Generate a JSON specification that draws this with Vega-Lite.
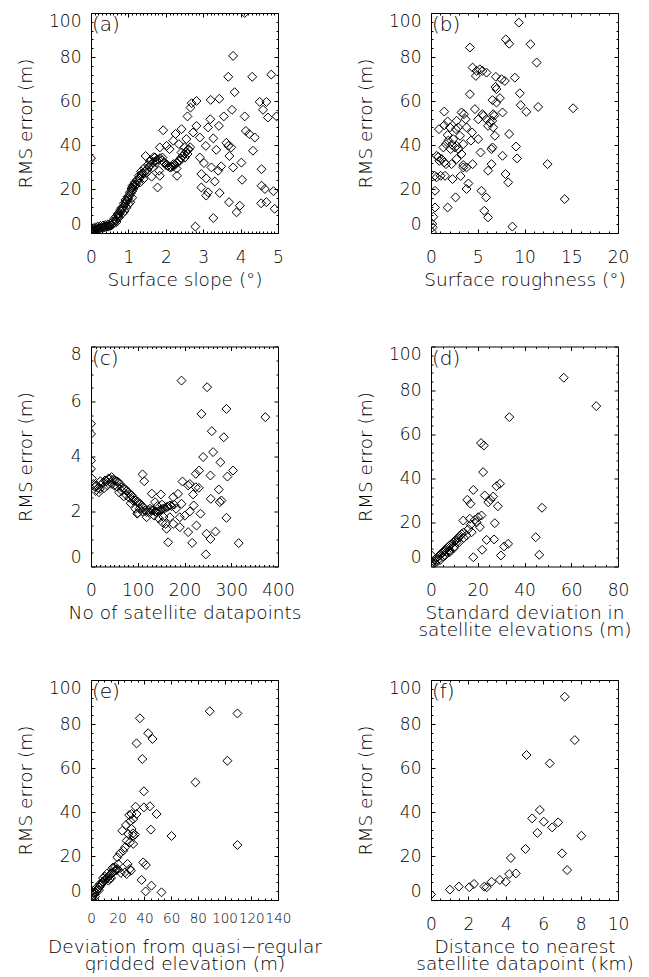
{
  "$schema": "https://vega.github.io/schema/vega-lite/v6.json",
  "background": "white",
  "padding": {"left": 15, "top": 8, "right": 0, "bottom": 0},
  "config": {
    "view": {"stroke": "black", "strokeWidth": 1},
    "font": "DejaVu Sans",
    "axis": {"grid": false, "domain": false, "format": "d", "labelFont": "DejaVu Sans", "labelFontSize": 17, "labelFontWeight": 200, "labelColor": "black", "titleFont": "DejaVu Sans", "titleFontSize": 18.5, "titleFontWeight": 200, "titleColor": "black", "tickColor": "black", "tickWidth": 1, "labelOverlap": false, "labelBound": false},
    "axisX": {"labelFlush": false, "titleY": 52, "titleBaseline": "alphabetic", "labelPadding": 20, "titleLineHeight": 17},
    "axisY": {"labelFlush": true, "titleX": -66, "titleBaseline": "middle", "labelPadding": 14},
    "point": {"shape": "diamond", "filled": false, "color": "black", "size": 80, "strokeWidth": 1, "opacity": 1}
  },
  "datasets": {
    "a": [
      {"x":0,"y":0.3},{"x":0,"y":1},{"x":0.01,"y":0.5},{"x":0.03,"y":0.8},{"x":0.05,"y":1.0},{"x":0.08,"y":1.2},{"x":0.1,"y":1.4},{"x":0.13,"y":1.6},{"x":0.16,"y":1.8},{"x":0.2,"y":2.0},{"x":0.23,"y":2.1},{"x":0.26,"y":2.3},{"x":0.3,"y":2.4},{"x":0.33,"y":2.5},{"x":0.36,"y":2.6},{"x":0.4,"y":2.8},{"x":0.43,"y":2.9},{"x":0.46,"y":3.0},{"x":0.5,"y":3.2},{"x":0.53,"y":3.4},{"x":0.56,"y":3.7},{"x":0.6,"y":4.3},{"x":0.63,"y":5.0},{"x":0.66,"y":5.8},{"x":0.7,"y":6.8},{"x":0.73,"y":7.8},{"x":0.76,"y":8.8},{"x":0.8,"y":9.8},{"x":0.83,"y":10.8},{"x":0.86,"y":11.8},{"x":0.9,"y":12.8},{"x":0.93,"y":13.8},{"x":0.96,"y":14.8},{"x":1.0,"y":15.8},{"x":1.03,"y":17},{"x":1.06,"y":18},{"x":1.1,"y":19},{"x":1.13,"y":20},{"x":1.17,"y":21.2},{"x":1.2,"y":22},{"x":1.25,"y":23.5},{"x":1.3,"y":25},{"x":1.35,"y":26},{"x":1.4,"y":27},{"x":1.45,"y":28},{"x":1.5,"y":29},{"x":1.55,"y":30},{"x":1.6,"y":31},{"x":1.65,"y":32},{"x":1.7,"y":32.5},{"x":1.75,"y":33},{"x":1.8,"y":33.5},{"x":1.85,"y":34},{"x":1.9,"y":33},{"x":1.95,"y":32},{"x":2.0,"y":31},{"x":2.05,"y":30.5},{"x":2.1,"y":30},{"x":2.15,"y":30},{"x":2.2,"y":30.5},{"x":2.25,"y":31},{"x":2.3,"y":32},{"x":2.35,"y":33},{"x":2.4,"y":34},{"x":2.45,"y":35},{"x":2.5,"y":36},{"x":2.55,"y":37},{"x":2.6,"y":38},{"x":2.65,"y":39},
      {"x":0.02,"y":1.8},{"x":0.06,"y":2.2},{"x":0.12,"y":2.6},{"x":0.18,"y":2.9},{"x":0.25,"y":3.2},{"x":0.32,"y":3.4},{"x":0.38,"y":3.6},{"x":0.45,"y":3.9},{"x":0.52,"y":4.3},{"x":0.58,"y":5.2},{"x":0.62,"y":6.5},{"x":0.67,"y":7.5},{"x":0.71,"y":8.6},{"x":0.78,"y":10.5},{"x":0.82,"y":11.5},{"x":0.88,"y":13.5},{"x":0.92,"y":15},{"x":0.98,"y":16.5},{"x":1.04,"y":18.5},{"x":1.08,"y":20},{"x":1.15,"y":22},{"x":1.22,"y":24},{"x":1.28,"y":26},{"x":1.34,"y":28},{"x":1.42,"y":29.5},{"x":1.52,"y":31},{"x":1.6,"y":33},{"x":1.68,"y":34.5},
      {"x":0.85,"y":9},{"x":0.9,"y":10},{"x":0.95,"y":11.5},{"x":1.0,"y":13},{"x":1.05,"y":14},{"x":1.1,"y":16},{"x":0.68,"y":5},{"x":0.75,"y":7},
      {"x":0,"y":34},{"x":4.11,"y":100},{"x":3.8,"y":80.5},{"x":3.67,"y":71},{"x":4.31,"y":71},{"x":4.82,"y":72},{"x":3.84,"y":64},{"x":2.69,"y":59},{"x":2.82,"y":60},{"x":3.2,"y":60.5},{"x":3.43,"y":61},{"x":4.51,"y":59.6},{"x":4.69,"y":59.6},{"x":4.6,"y":56},{"x":4.73,"y":52.5},{"x":4.96,"y":53},{"x":3.77,"y":56},{"x":2.66,"y":57},{"x":2.58,"y":53},{"x":4.11,"y":53},{"x":3.19,"y":51.7},{"x":3.55,"y":53},{"x":3.42,"y":48.7},{"x":3.13,"y":48},{"x":2.82,"y":48.7},{"x":4.14,"y":46.4},{"x":4.23,"y":45},{"x":4.38,"y":43.4},{"x":4.33,"y":37.4},{"x":2.91,"y":43.4},{"x":3.27,"y":43},{"x":2.73,"y":45.7},{"x":3.62,"y":41},{"x":3.67,"y":39.6},{"x":3.75,"y":38.9},{"x":3.07,"y":39.6},{"x":3.35,"y":37.8},{"x":3.7,"y":35},{"x":2.91,"y":34.3},{"x":3.8,"y":29.8},{"x":4.02,"y":32},{"x":3.02,"y":31.8},{"x":3.22,"y":29.8},{"x":3.48,"y":30.3},{"x":3.4,"y":28.3},{"x":4.56,"y":29},{"x":2.95,"y":26.8},{"x":3.08,"y":24.8},{"x":3.31,"y":23.4},{"x":4.04,"y":24.2},{"x":2.95,"y":20.7},{"x":3.13,"y":18.5},{"x":3.08,"y":17},{"x":4.56,"y":21.5},{"x":4.65,"y":20},{"x":4.88,"y":19},{"x":3.44,"y":18.2},{"x":3.69,"y":14},{"x":4.55,"y":13.5},{"x":4.69,"y":14},{"x":3.98,"y":12.4},{"x":3.89,"y":9.4},{"x":4.91,"y":11},{"x":3.27,"y":6.8},{"x":2.79,"y":2.9},
      {"x":1.93,"y":46.7},{"x":2.26,"y":45},{"x":2.42,"y":47.2},{"x":2.55,"y":42.7},{"x":2.2,"y":42},{"x":2.02,"y":39.6},{"x":1.84,"y":38.9},{"x":2.35,"y":40.4},{"x":2.5,"y":38.9},{"x":2.61,"y":38},{"x":2.1,"y":38.1},{"x":1.71,"y":34.3},{"x":1.91,"y":34.3},{"x":1.46,"y":35},{"x":1.57,"y":32.8},{"x":1.75,"y":32},{"x":2.02,"y":31.3},{"x":2.2,"y":31.3},{"x":2.38,"y":32.8},{"x":2.51,"y":34.3},{"x":2.42,"y":36.6},{"x":2.58,"y":35.9},{"x":2.11,"y":29.8},{"x":2.29,"y":29.3},{"x":1.82,"y":28.3},{"x":1.49,"y":27.5},{"x":1.65,"y":29.8},{"x":1.84,"y":26},{"x":2.3,"y":26},{"x":1.78,"y":20.7},{"x":1.62,"y":25.6},{"x":1.35,"y":26.8},{"x":1.4,"y":24.5},{"x":1.31,"y":23},{"x":1.17,"y":23},{"x":1.11,"y":21.5},{"x":1.1,"y":20.7}
    ],
    "b": [
      {"x":9.4,"y":95.6},{"x":4.16,"y":84.3},{"x":8.0,"y":88},{"x":8.36,"y":86},{"x":10.64,"y":85.8},{"x":11.3,"y":77.5},{"x":4.45,"y":75.2},{"x":4.88,"y":73.7},{"x":5.23,"y":74.4},{"x":5.5,"y":73.7},{"x":4.8,"y":71.4},{"x":5.94,"y":72.9},{"x":6.94,"y":71},{"x":8.97,"y":70.6},{"x":7.9,"y":69.1},{"x":7.54,"y":69.9},{"x":6.9,"y":66.4},{"x":7.0,"y":65.4},{"x":9.5,"y":63.5},{"x":4.16,"y":63.1},{"x":7.37,"y":61.3},{"x":6.58,"y":60.4},{"x":7.0,"y":59.3},{"x":9.6,"y":58.1},{"x":11.46,"y":57.3},{"x":15.2,"y":56.7},{"x":7.65,"y":54.8},{"x":10.2,"y":55.1},{"x":1.42,"y":55.2},{"x":1.78,"y":50.7},{"x":1.42,"y":49},{"x":3.27,"y":54.8},{"x":3.52,"y":54},{"x":3.7,"y":51.7},{"x":4.7,"y":56.3},{"x":5.5,"y":54},{"x":5.6,"y":53.3},{"x":5.94,"y":51.7},{"x":5.05,"y":51.7},{"x":6.3,"y":50.2},{"x":6.65,"y":54},{"x":6.76,"y":53.3},{"x":6.1,"y":48.7},{"x":6.65,"y":48},{"x":6.55,"y":51},{"x":3.8,"y":48},{"x":2.74,"y":51},{"x":2.92,"y":48},{"x":2.67,"y":47.2},{"x":2.03,"y":48},{"x":0.85,"y":47.2},{"x":1.78,"y":44.5},{"x":3.1,"y":44.2},{"x":4.4,"y":45.7},{"x":4.27,"y":42},{"x":5.05,"y":42.7},{"x":8.36,"y":45},{"x":6.83,"y":44.2},{"x":2.38,"y":42.7},{"x":1.85,"y":42},{"x":1.6,"y":40.4},{"x":2.24,"y":40.1},{"x":2.74,"y":39.6},{"x":3.45,"y":40.4},{"x":2.56,"y":38.9},{"x":2.1,"y":38.1},{"x":2.92,"y":38.1},{"x":1.32,"y":38.9},{"x":3.27,"y":35.9},{"x":6.58,"y":38.9},{"x":6.47,"y":38.1},{"x":9.1,"y":39.3},{"x":7.65,"y":35.1},{"x":9.2,"y":33.9},{"x":5.3,"y":36.6},{"x":1.14,"y":33.6},{"x":0.78,"y":34.6},{"x":0.6,"y":35.1},{"x":0.89,"y":32.8},{"x":1.42,"y":32.1},{"x":1.6,"y":31.3},{"x":2.2,"y":31.3},{"x":2.74,"y":33.6},{"x":3.45,"y":30.9},{"x":3.8,"y":29.8},{"x":4.45,"y":31.3},{"x":3.45,"y":29.8},{"x":6.47,"y":31.3},{"x":6.1,"y":28.3},{"x":12.46,"y":31.3},{"x":7.97,"y":26.8},{"x":3.17,"y":25.9},{"x":1.03,"y":26},{"x":0.6,"y":25.3},{"x":1.5,"y":26},{"x":0.4,"y":26},{"x":2.3,"y":24.5},{"x":4.0,"y":22.5},{"x":8.26,"y":23},{"x":3.8,"y":20},{"x":5.4,"y":19.2},{"x":0.43,"y":19.2},{"x":5.9,"y":16.2},{"x":2.63,"y":16.2},{"x":14.3,"y":15.4},{"x":1.78,"y":11.6},{"x":5.7,"y":10.1},{"x":0.43,"y":11.6},{"x":6.1,"y":7.1},{"x":0.25,"y":7.4},{"x":0.14,"y":4.1},{"x":0.18,"y":2.6},{"x":8.7,"y":2.9},{"x":0.1,"y":0.5}
    ],
    "c": [
      {"x":193.6,"y":6.76},{"x":248.4,"y":6.52},{"x":236.3,"y":5.55},{"x":289.7,"y":5.73},{"x":373,"y":5.43},{"x":258.4,"y":4.92},{"x":284,"y":4.7},{"x":0,"y":5.19},{"x":0,"y":4.82},{"x":0,"y":3.85},{"x":0,"y":3.55},{"x":239.9,"y":3.98},{"x":261.2,"y":4.16},{"x":276.9,"y":3.79},{"x":303.9,"y":3.49},{"x":231.3,"y":3.49},{"x":224.2,"y":3.37},{"x":291.8,"y":3.27},{"x":255.5,"y":3.31},{"x":110.3,"y":3.35},{"x":113.9,"y":3.1},{"x":195.7,"y":3.09},{"x":207.8,"y":2.95},{"x":211.4,"y":3.0},{"x":224.2,"y":2.88},{"x":230.6,"y":2.86},{"x":273.3,"y":2.8},{"x":256.2,"y":2.46},{"x":279,"y":2.4},{"x":275.5,"y":2.34},{"x":175.8,"y":2.52},{"x":149.5,"y":2.62},{"x":186.1,"y":2.64},{"x":218.4,"y":2.62},{"x":219.7,"y":2.22},{"x":193.6,"y":2.28},{"x":190,"y":1.79},{"x":200.7,"y":1.85},{"x":211.4,"y":2.0},{"x":234.2,"y":1.92},{"x":289.7,"y":1.77},{"x":225.6,"y":1.49},{"x":207.8,"y":1.25},{"x":266.3,"y":1.27},{"x":247.1,"y":1.19},{"x":255.5,"y":1.0},{"x":216.4,"y":0.86},{"x":165.1,"y":0.88},{"x":316,"y":0.85},{"x":245.6,"y":0.44},{"x":190,"y":1.43},{"x":152.3,"y":1.61},{"x":161.6,"y":1.37},{"x":175.8,"y":1.55},{"x":168.7,"y":1.79},
      {"x":2,"y":3.2},{"x":5,"y":3.0},{"x":8,"y":2.9},{"x":12,"y":2.95},{"x":15,"y":2.85},{"x":19,"y":2.82},{"x":23,"y":3.0},{"x":26,"y":3.05},{"x":30,"y":3.13},{"x":33,"y":3.1},{"x":37,"y":3.19},{"x":40,"y":3.2},{"x":44,"y":3.25},{"x":47,"y":3.15},{"x":51,"y":3.13},{"x":55,"y":3.1},{"x":58,"y":3.07},{"x":62,"y":3.0},{"x":65,"y":2.88},{"x":69,"y":2.85},{"x":73,"y":2.82},{"x":76,"y":2.75},{"x":80,"y":2.7},{"x":84,"y":2.62},{"x":87,"y":2.58},{"x":91,"y":2.5},{"x":94,"y":2.4},{"x":98,"y":2.35},{"x":101,"y":2.34},{"x":99,"y":1.92},{"x":105,"y":2.28},{"x":108,"y":2.22},{"x":112,"y":2.15},{"x":116,"y":2.05},{"x":119,"y":1.98},{"x":122,"y":2.05},{"x":126,"y":2.1},{"x":130,"y":2.05},{"x":133,"y":2.04},{"x":137,"y":2.0},{"x":140,"y":1.98},{"x":144,"y":2.0},{"x":147,"y":2.04},{"x":150,"y":2.08},{"x":154,"y":2.1},{"x":158,"y":2.12},{"x":162,"y":2.16},{"x":165,"y":2.18},{"x":169,"y":2.22},{"x":172,"y":2.2},{"x":119,"y":1.79},{"x":130,"y":2.65},{"x":137,"y":2.34},{"x":60,"y":2.7},{"x":70,"y":2.55},{"x":85,"y":2.3},{"x":95,"y":2.1},{"x":100,"y":1.95},{"x":45,"y":3.0},{"x":28,"y":2.85},{"x":10,"y":2.75},{"x":178,"y":2.25},{"x":182,"y":2.1},{"x":155,"y":1.8},{"x":145,"y":1.75},{"x":160,"y":1.55},
      {"x":35,"y":2.95},{"x":42,"y":3.05},{"x":50,"y":2.95},{"x":56,"y":2.9},{"x":66,"y":2.75},{"x":75,"y":2.6},{"x":82,"y":2.5},{"x":90,"y":2.4},{"x":104,"y":2.1},{"x":110,"y":2.0},{"x":125,"y":1.95},{"x":135,"y":1.85},{"x":142,"y":2.2},{"x":152,"y":2.25},{"x":20,"y":3.1},{"x":17,"y":2.7}
    ],
    "d": [
      {"x":56.8,"y":85.8},{"x":70.7,"y":72.9},{"x":33.5,"y":67.9},{"x":21.4,"y":56.1},{"x":22.6,"y":55},{"x":22.3,"y":42.9},{"x":29.5,"y":37.6},{"x":28,"y":36.5},{"x":18.1,"y":34.8},{"x":15.5,"y":30.3},{"x":16.9,"y":28.5},{"x":23,"y":32.3},{"x":26.6,"y":31.8},{"x":25.5,"y":30.3},{"x":24.5,"y":29.2},{"x":28.6,"y":27.4},{"x":47.5,"y":26.7},{"x":27.3,"y":19.7},{"x":13.8,"y":20.9},{"x":16.6,"y":21.7},{"x":18.8,"y":21.2},{"x":20.2,"y":22.4},{"x":21.6,"y":23.2},{"x":19.5,"y":20.1},{"x":20.9,"y":17.9},{"x":17.4,"y":15.6},{"x":15.2,"y":14.1},{"x":44.8,"y":13.3},{"x":23.8,"y":12.1},{"x":27,"y":12.3},{"x":33,"y":10.3},{"x":31.3,"y":9.1},{"x":21.9,"y":7.6},{"x":18.1,"y":4.2},{"x":29.9,"y":5},{"x":46.3,"y":5.3},
      {"x":0.3,"y":0.5},{"x":0.7,"y":1.5},{"x":1,"y":2.5},{"x":1.5,"y":3},{"x":2,"y":3.5},{"x":2.5,"y":4},{"x":3.1,"y":4.5},{"x":3.6,"y":5.0},{"x":4.1,"y":5.5},{"x":4.6,"y":6},{"x":5.1,"y":6.5},{"x":5.6,"y":7},{"x":6,"y":7.5},{"x":6.5,"y":8},{"x":7,"y":8.5},{"x":7.4,"y":9},{"x":8,"y":9.5},{"x":8.5,"y":10},{"x":9,"y":10.5},{"x":9.5,"y":11},{"x":10.2,"y":11.5},{"x":10.8,"y":12.3},{"x":11.7,"y":13},{"x":12.4,"y":14},{"x":13.1,"y":14.8},{"x":14,"y":15.5},{"x":11,"y":11},{"x":9.7,"y":8.3},{"x":8.1,"y":7.3},{"x":6.7,"y":6.5},{"x":0.3,"y":5.0},{"x":1,"y":1.2},{"x":5,"y":4.5},{"x":3,"y":3},{"x":2,"y":1.5},{"x":4,"y":3},{"x":6,"y":5},{"x":8,"y":6.5},{"x":10,"y":9},{"x":12,"y":11},{"x":14,"y":13},{"x":16,"y":17},{"x":17,"y":19}
    ],
    "e": [
      {"x":88.9,"y":85.8},{"x":109.6,"y":84.8},{"x":36.6,"y":82.6},{"x":42.8,"y":75.8},{"x":46.1,"y":73.2},{"x":34.1,"y":71.2},{"x":102.1,"y":63.3},{"x":38.4,"y":64.1},{"x":78.2,"y":53.5},{"x":39.6,"y":49.4},{"x":30.4,"y":39.1},{"x":34.1,"y":39.1},{"x":28.6,"y":38.6},{"x":49.1,"y":39.1},{"x":33.4,"y":42.4},{"x":39.6,"y":42.1},{"x":44.1,"y":42.6},{"x":44.8,"y":32},{"x":60.3,"y":29.1},{"x":31.6,"y":36.8},{"x":26.2,"y":34.1},{"x":23.4,"y":31.5},{"x":29.4,"y":35.8},{"x":30.4,"y":32.3},{"x":31.4,"y":30.3},{"x":31.6,"y":29.2},{"x":32.9,"y":29.7},{"x":27.9,"y":30},{"x":26.7,"y":27},{"x":29.1,"y":26.2},{"x":31.6,"y":25.5},{"x":109.6,"y":25},{"x":25.4,"y":23.9},{"x":24.2,"y":22.4},{"x":21.7,"y":21.2},{"x":19.7,"y":19.4},{"x":39.1,"y":17.1},{"x":41.1,"y":15.9},{"x":27.4,"y":16.4},{"x":20.4,"y":16.4},{"x":16.7,"y":14.8},{"x":19.2,"y":13.6},{"x":25.4,"y":12.6},{"x":29.1,"y":14.1},{"x":26.7,"y":11.8},{"x":29.9,"y":13.3},{"x":22.4,"y":12.3},{"x":37.9,"y":9.1},{"x":45.3,"y":6.5},{"x":40.9,"y":3.9},{"x":52.8,"y":3.5},
      {"x":0.5,"y":0.5},{"x":1,"y":1.2},{"x":1.7,"y":2},{"x":2.5,"y":2.7},{"x":3.3,"y":3.5},{"x":4.2,"y":4.2},{"x":5.1,"y":5},{"x":6.2,"y":5.8},{"x":7,"y":6.5},{"x":8,"y":7.3},{"x":9,"y":8},{"x":10,"y":8.8},{"x":10.8,"y":9.3},{"x":11.7,"y":9.8},{"x":12.7,"y":10.5},{"x":13.7,"y":11.1},{"x":14.5,"y":11.6},{"x":15.4,"y":12.1},{"x":16.5,"y":12.7},{"x":17.9,"y":13.3},{"x":10.5,"y":10.6},{"x":13,"y":8.8},{"x":6.7,"y":7.3},{"x":1.7,"y":4.2},{"x":8.7,"y":8.3},{"x":3,"y":1.5},{"x":18,"y":15},{"x":15,"y":10},{"x":2,"y":3.2},{"x":4,"y":5.5},{"x":6,"y":4.5},{"x":9,"y":10},{"x":12,"y":12},{"x":14,"y":9.5},{"x":16,"y":14.5},{"x":20,"y":14}
    ],
    "f": [
      {"x":7.15,"y":92.4},{"x":7.69,"y":72.7},{"x":5.11,"y":65.9},{"x":6.35,"y":62.1},{"x":5.82,"y":40.9},{"x":5.41,"y":37.1},{"x":6.03,"y":35.6},{"x":6.8,"y":35.3},{"x":6.48,"y":33},{"x":5.69,"y":30.5},{"x":8.04,"y":29.2},{"x":5.05,"y":23.2},{"x":7.01,"y":21.2},{"x":4.27,"y":19.1},{"x":7.28,"y":13.6},{"x":4.18,"y":11.8},{"x":4.54,"y":12.1},{"x":4.0,"y":8.3},{"x":3.68,"y":9.1},{"x":3.24,"y":8.3},{"x":2.85,"y":6.1},{"x":2.98,"y":5.8},{"x":2.3,"y":7.3},{"x":2.05,"y":5.8},{"x":1.49,"y":6.1},{"x":1.01,"y":4.7},{"x":0,"y":2.5}
    ]
  },
  "columns": 2,
  "spacing": {"row": 113.5, "column": 153},
  "bounds": "flush",
  "concat": [
    {
      "width": 187, "height": 220,
      "layer": [
        {"data": {"name": "a"}, "mark": {"type": "point", "clip": true},
         "encoding": {
           "x": {"field": "x", "type": "quantitative", "scale": {"domain": [0, 5], "nice": false, "zero": false},
                 "axis": {"orient": "bottom", "title": "Surface slope (°)", "values": [0,0.1,0.2,0.3,0.4,0.5,0.6,0.7,0.8,0.9,1,1.1,1.2,1.3,1.4,1.5,1.6,1.7,1.8,1.9,2,2.1,2.2,2.3,2.4,2.5,2.6,2.7,2.8,2.9,3,3.1,3.2,3.3,3.4,3.5,3.6,3.7,3.8,3.9,4,4.1,4.2,4.3,4.4,4.5,4.6,4.7,4.8,4.9,5], "labelExpr": "datum.value % 1 === 0 ? datum.label : ''", "tickSize": {"condition": {"test": "datum.value % 1 === 0", "value": -4}, "value": -2}}},
           "y": {"field": "y", "type": "quantitative", "scale": {"domain": [0, 100], "nice": false, "zero": false},
                 "axis": {"orient": "left", "title": "RMS error (m)", "values": [0,4,8,12,16,20,24,28,32,36,40,44,48,52,56,60,64,68,72,76,80,84,88,92,96,100], "labelExpr": "datum.value % 20 === 0 ? datum.label : ''", "tickSize": {"condition": {"test": "datum.value % 20 === 0", "value": -4}, "value": -2}}}
         }},
        {"data": {"name": "a"}, "mark": {"type": "point", "opacity": 0},
         "encoding": {
           "x": {"field": "x", "type": "quantitative", "axis": {"orient": "top", "labels": false, "title": null, "values": [0,0.1,0.2,0.3,0.4,0.5,0.6,0.7,0.8,0.9,1,1.1,1.2,1.3,1.4,1.5,1.6,1.7,1.8,1.9,2,2.1,2.2,2.3,2.4,2.5,2.6,2.7,2.8,2.9,3,3.1,3.2,3.3,3.4,3.5,3.6,3.7,3.8,3.9,4,4.1,4.2,4.3,4.4,4.5,4.6,4.7,4.8,4.9,5], "tickSize": {"condition": {"test": "datum.value % 1 === 0", "value": -4}, "value": -2}}},
           "y": {"field": "y", "type": "quantitative", "axis": {"orient": "right", "labels": false, "title": null, "values": [0,4,8,12,16,20,24,28,32,36,40,44,48,52,56,60,64,68,72,76,80,84,88,92,96,100], "tickSize": {"condition": {"test": "datum.value % 20 === 0", "value": -4}, "value": -2}}}
         }},
        {"data": {"values": [{"label": "(a)"}]},
         "mark": {"type": "text", "font": "DejaVu Sans", "fontSize": 20, "fontWeight": 200, "color": "black", "align": "left", "baseline": "top", "dx": 1, "dy": 2},
         "encoding": {"x": {"datum": 0, "type": "quantitative", "axis": null}, "y": {"datum": 100, "type": "quantitative", "axis": null}, "text": {"field": "label"}}}
      ],
      "resolve": {"axis": {"x": "independent", "y": "independent"}}
    },
    {
      "width": 187, "height": 220,
      "layer": [
        {"data": {"name": "b"}, "mark": {"type": "point", "clip": true},
         "encoding": {
           "x": {"field": "x", "type": "quantitative", "scale": {"domain": [0, 20], "nice": false, "zero": false},
                 "axis": {"orient": "bottom", "title": "Surface roughness (°)", "values": [0,1,2,3,4,5,6,7,8,9,10,11,12,13,14,15,16,17,18,19,20], "labelExpr": "datum.value % 5 === 0 ? datum.label : ''", "tickSize": {"condition": {"test": "datum.value % 5 === 0", "value": -4}, "value": -2}}},
           "y": {"field": "y", "type": "quantitative", "scale": {"domain": [0, 100], "nice": false, "zero": false},
                 "axis": {"orient": "left", "title": "RMS error (m)", "values": [0,4,8,12,16,20,24,28,32,36,40,44,48,52,56,60,64,68,72,76,80,84,88,92,96,100], "labelExpr": "datum.value % 20 === 0 ? datum.label : ''", "tickSize": {"condition": {"test": "datum.value % 20 === 0", "value": -4}, "value": -2}}}
         }},
        {"data": {"name": "b"}, "mark": {"type": "point", "opacity": 0},
         "encoding": {
           "x": {"field": "x", "type": "quantitative", "axis": {"orient": "top", "labels": false, "title": null, "values": [0,1,2,3,4,5,6,7,8,9,10,11,12,13,14,15,16,17,18,19,20], "tickSize": {"condition": {"test": "datum.value % 5 === 0", "value": -4}, "value": -2}}},
           "y": {"field": "y", "type": "quantitative", "axis": {"orient": "right", "labels": false, "title": null, "values": [0,4,8,12,16,20,24,28,32,36,40,44,48,52,56,60,64,68,72,76,80,84,88,92,96,100], "tickSize": {"condition": {"test": "datum.value % 20 === 0", "value": -4}, "value": -2}}}
         }},
        {"data": {"values": [{"label": "(b)"}]},
         "mark": {"type": "text", "font": "DejaVu Sans", "fontSize": 20, "fontWeight": 200, "color": "black", "align": "left", "baseline": "top", "dx": 1, "dy": 2},
         "encoding": {"x": {"datum": 0, "type": "quantitative", "axis": null}, "y": {"datum": 100, "type": "quantitative", "axis": null}, "text": {"field": "label"}}}
      ],
      "resolve": {"axis": {"x": "independent", "y": "independent"}}
    },
    {
      "width": 187, "height": 220,
      "layer": [
        {"data": {"name": "c"}, "mark": {"type": "point", "clip": true},
         "encoding": {
           "x": {"field": "x", "type": "quantitative", "scale": {"domain": [0, 400], "nice": false, "zero": false},
                 "axis": {"orient": "bottom", "title": "No of satellite datapoints", "values": [0,10,20,30,40,50,60,70,80,90,100,110,120,130,140,150,160,170,180,190,200,210,220,230,240,250,260,270,280,290,300,310,320,330,340,350,360,370,380,390,400], "labelExpr": "datum.value % 100 === 0 ? datum.label : ''", "tickSize": {"condition": {"test": "datum.value % 100 === 0", "value": -4}, "value": -2}}},
           "y": {"field": "y", "type": "quantitative", "scale": {"domain": [0, 8], "nice": false, "zero": false},
                 "axis": {"orient": "left", "title": "RMS error (m)", "values": [0,0.5,1,1.5,2,2.5,3,3.5,4,4.5,5,5.5,6,6.5,7,7.5,8], "labelExpr": "datum.value % 2 === 0 ? datum.label : ''", "tickSize": {"condition": {"test": "datum.value % 2 === 0", "value": -4}, "value": -2}}}
         }},
        {"data": {"name": "c"}, "mark": {"type": "point", "opacity": 0},
         "encoding": {
           "x": {"field": "x", "type": "quantitative", "axis": {"orient": "top", "labels": false, "title": null, "values": [0,10,20,30,40,50,60,70,80,90,100,110,120,130,140,150,160,170,180,190,200,210,220,230,240,250,260,270,280,290,300,310,320,330,340,350,360,370,380,390,400], "tickSize": {"condition": {"test": "datum.value % 100 === 0", "value": -4}, "value": -2}}},
           "y": {"field": "y", "type": "quantitative", "axis": {"orient": "right", "labels": false, "title": null, "values": [0,0.5,1,1.5,2,2.5,3,3.5,4,4.5,5,5.5,6,6.5,7,7.5,8], "tickSize": {"condition": {"test": "datum.value % 2 === 0", "value": -4}, "value": -2}}}
         }},
        {"data": {"values": [{"label": "(c)"}]},
         "mark": {"type": "text", "font": "DejaVu Sans", "fontSize": 20, "fontWeight": 200, "color": "black", "align": "left", "baseline": "top", "dx": 1, "dy": 2},
         "encoding": {"x": {"datum": 0, "type": "quantitative", "axis": null}, "y": {"datum": 8, "type": "quantitative", "axis": null}, "text": {"field": "label"}}}
      ],
      "resolve": {"axis": {"x": "independent", "y": "independent"}}
    },
    {
      "width": 187, "height": 220,
      "layer": [
        {"data": {"name": "d"}, "mark": {"type": "point", "clip": true},
         "encoding": {
           "x": {"field": "x", "type": "quantitative", "scale": {"domain": [0, 80], "nice": false, "zero": false},
                 "axis": {"orient": "bottom", "title": ["Standard deviation in", "satellite elevations (m)"], "values": [0,5,10,15,20,25,30,35,40,45,50,55,60,65,70,75,80], "labelExpr": "datum.value % 20 === 0 ? datum.label : ''", "tickSize": {"condition": {"test": "datum.value % 20 === 0", "value": -4}, "value": -2}}},
           "y": {"field": "y", "type": "quantitative", "scale": {"domain": [0, 100], "nice": false, "zero": false},
                 "axis": {"orient": "left", "title": "RMS error (m)", "values": [0,4,8,12,16,20,24,28,32,36,40,44,48,52,56,60,64,68,72,76,80,84,88,92,96,100], "labelExpr": "datum.value % 20 === 0 ? datum.label : ''", "tickSize": {"condition": {"test": "datum.value % 20 === 0", "value": -4}, "value": -2}}}
         }},
        {"data": {"name": "d"}, "mark": {"type": "point", "opacity": 0},
         "encoding": {
           "x": {"field": "x", "type": "quantitative", "axis": {"orient": "top", "labels": false, "title": null, "values": [0,5,10,15,20,25,30,35,40,45,50,55,60,65,70,75,80], "tickSize": {"condition": {"test": "datum.value % 20 === 0", "value": -4}, "value": -2}}},
           "y": {"field": "y", "type": "quantitative", "axis": {"orient": "right", "labels": false, "title": null, "values": [0,4,8,12,16,20,24,28,32,36,40,44,48,52,56,60,64,68,72,76,80,84,88,92,96,100], "tickSize": {"condition": {"test": "datum.value % 20 === 0", "value": -4}, "value": -2}}}
         }},
        {"data": {"values": [{"label": "(d)"}]},
         "mark": {"type": "text", "font": "DejaVu Sans", "fontSize": 20, "fontWeight": 200, "color": "black", "align": "left", "baseline": "top", "dx": 1, "dy": 2},
         "encoding": {"x": {"datum": 0, "type": "quantitative", "axis": null}, "y": {"datum": 100, "type": "quantitative", "axis": null}, "text": {"field": "label"}}}
      ],
      "resolve": {"axis": {"x": "independent", "y": "independent"}}
    },
    {
      "width": 187, "height": 220,
      "layer": [
        {"data": {"name": "e"}, "mark": {"type": "point", "clip": true},
         "encoding": {
           "x": {"field": "x", "type": "quantitative", "scale": {"domain": [0, 140], "nice": false, "zero": false},
                 "axis": {"orient": "bottom", "title": ["Deviation from quasi−regular", "gridded elevation (m)"], "labelFontSize": 13.5, "labelPadding": 15, "values": [0,5,10,15,20,25,30,35,40,45,50,55,60,65,70,75,80,85,90,95,100,105,110,115,120,125,130,135,140], "labelExpr": "datum.value % 20 === 0 ? datum.label : ''", "tickSize": {"condition": {"test": "datum.value % 20 === 0", "value": -4}, "value": -2}}},
           "y": {"field": "y", "type": "quantitative", "scale": {"domain": [0, 100], "nice": false, "zero": false},
                 "axis": {"orient": "left", "title": "RMS error (m)", "values": [0,4,8,12,16,20,24,28,32,36,40,44,48,52,56,60,64,68,72,76,80,84,88,92,96,100], "labelExpr": "datum.value % 20 === 0 ? datum.label : ''", "tickSize": {"condition": {"test": "datum.value % 20 === 0", "value": -4}, "value": -2}}}
         }},
        {"data": {"name": "e"}, "mark": {"type": "point", "opacity": 0},
         "encoding": {
           "x": {"field": "x", "type": "quantitative", "axis": {"orient": "top", "labels": false, "title": null, "values": [0,5,10,15,20,25,30,35,40,45,50,55,60,65,70,75,80,85,90,95,100,105,110,115,120,125,130,135,140], "tickSize": {"condition": {"test": "datum.value % 20 === 0", "value": -4}, "value": -2}}},
           "y": {"field": "y", "type": "quantitative", "axis": {"orient": "right", "labels": false, "title": null, "values": [0,4,8,12,16,20,24,28,32,36,40,44,48,52,56,60,64,68,72,76,80,84,88,92,96,100], "tickSize": {"condition": {"test": "datum.value % 20 === 0", "value": -4}, "value": -2}}}
         }},
        {"data": {"values": [{"label": "(e)"}]},
         "mark": {"type": "text", "font": "DejaVu Sans", "fontSize": 20, "fontWeight": 200, "color": "black", "align": "left", "baseline": "top", "dx": 1, "dy": 2},
         "encoding": {"x": {"datum": 0, "type": "quantitative", "axis": null}, "y": {"datum": 100, "type": "quantitative", "axis": null}, "text": {"field": "label"}}}
      ],
      "resolve": {"axis": {"x": "independent", "y": "independent"}}
    },
    {
      "width": 187, "height": 220,
      "layer": [
        {"data": {"name": "f"}, "mark": {"type": "point", "clip": true},
         "encoding": {
           "x": {"field": "x", "type": "quantitative", "scale": {"domain": [0, 10], "nice": false, "zero": false},
                 "axis": {"orient": "bottom", "title": ["Distance to nearest", "satellite datapoint (km)"], "values": [0,0.5,1,1.5,2,2.5,3,3.5,4,4.5,5,5.5,6,6.5,7,7.5,8,8.5,9,9.5,10], "labelExpr": "datum.value % 2 === 0 ? datum.label : ''", "tickSize": {"condition": {"test": "datum.value % 2 === 0", "value": -4}, "value": -2}}},
           "y": {"field": "y", "type": "quantitative", "scale": {"domain": [0, 100], "nice": false, "zero": false},
                 "axis": {"orient": "left", "title": "RMS error (m)", "values": [0,4,8,12,16,20,24,28,32,36,40,44,48,52,56,60,64,68,72,76,80,84,88,92,96,100], "labelExpr": "datum.value % 20 === 0 ? datum.label : ''", "tickSize": {"condition": {"test": "datum.value % 20 === 0", "value": -4}, "value": -2}}}
         }},
        {"data": {"name": "f"}, "mark": {"type": "point", "opacity": 0},
         "encoding": {
           "x": {"field": "x", "type": "quantitative", "axis": {"orient": "top", "labels": false, "title": null, "values": [0,0.5,1,1.5,2,2.5,3,3.5,4,4.5,5,5.5,6,6.5,7,7.5,8,8.5,9,9.5,10], "tickSize": {"condition": {"test": "datum.value % 2 === 0", "value": -4}, "value": -2}}},
           "y": {"field": "y", "type": "quantitative", "axis": {"orient": "right", "labels": false, "title": null, "values": [0,4,8,12,16,20,24,28,32,36,40,44,48,52,56,60,64,68,72,76,80,84,88,92,96,100], "tickSize": {"condition": {"test": "datum.value % 20 === 0", "value": -4}, "value": -2}}}
         }},
        {"data": {"values": [{"label": "(f)"}]},
         "mark": {"type": "text", "font": "DejaVu Sans", "fontSize": 20, "fontWeight": 200, "color": "black", "align": "left", "baseline": "top", "dx": 1, "dy": 2},
         "encoding": {"x": {"datum": 0, "type": "quantitative", "axis": null}, "y": {"datum": 100, "type": "quantitative", "axis": null}, "text": {"field": "label"}}}
      ],
      "resolve": {"axis": {"x": "independent", "y": "independent"}}
    }
  ]
}
